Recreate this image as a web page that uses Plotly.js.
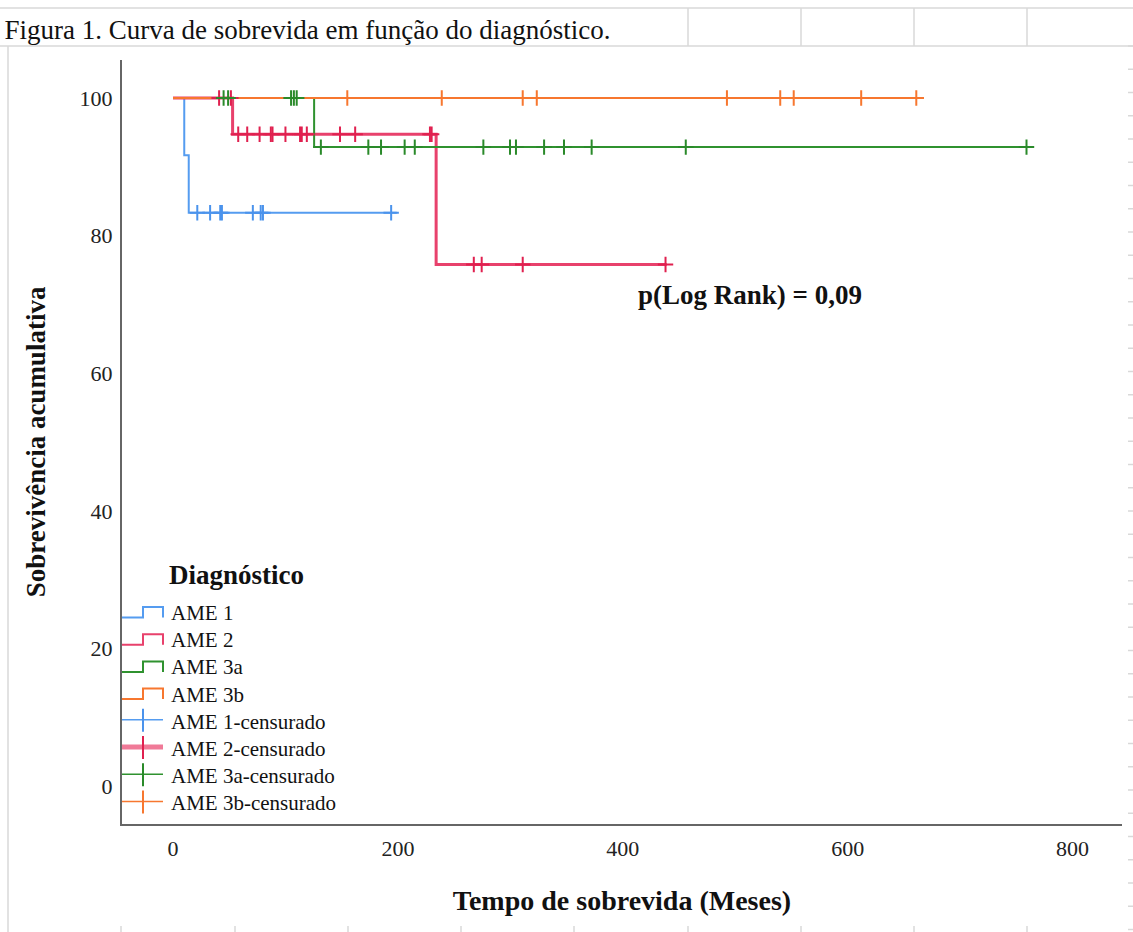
<!DOCTYPE html>
<html><head><meta charset="utf-8">
<script src="https://cdn.plot.ly/plotly-3.0.1.min.js"></script>
<style>html,body{margin:0;padding:0;background:#fff}#chart{width:1133px;height:932px}</style>
</head><body><div id="chart"></div>
<script>
// ---- data ----
const groupNames = ['AME 1', 'AME 2', 'AME 3a', 'AME 3b'];
const censorNames = ['AME 1-censurado', 'AME 2-censurado', 'AME 3a-censurado', 'AME 3b-censurado'];

const ame1Time = [0, 10, 14, 199];
const ame1Surv = [100, 91.67, 83.33, 83.33];
const ame1Censor = [21.6, 33, 42, 43.5, 71, 78, 80, 194];

const ame2Time = [0, 53, 234, 439];
const ame2Surv = [100, 94.74, 75.79, 75.79];
const ame2Censor = [41, 51.5, 58, 66, 77, 87, 88.5, 100, 113, 114.5, 119, 148.5, 162, 228.5, 230, 267.5, 274.5, 311, 438];

const ame3aTime = [0, 125.5, 764];
const ame3aSurv = [100, 92.86, 92.86];
const ame3aCensor = [45, 49, 105, 107.5, 110, 131.5, 173.7, 185, 206, 215, 276, 299.7, 305, 330, 347.7, 372.3, 456, 759];

const ame3bTime = [0, 662];
const ame3bSurv = [100, 100];
const ame3bCensor = [155, 239, 311, 323.5, 492.6, 540, 552, 612, 661];

const xTicks = [0, 200, 400, 600, 800];
const yTicks = [0, 20, 40, 60, 80, 100];
const pText = 'p(Log Rank) = 0,09';

// ---- styles ----
const lineColors = ['#559cf0', '#e8416c', '#2f922f', '#f7772f'];
const lineWidths = [2, 3, 2, 2];
const markColors = ['#4b93ec', '#e0204f', '#2a8a2a', '#f7772f'];

function survAt(times, surv, t) {
  let v = surv[0];
  for (let i = 0; i < times.length; i++) { if (times[i] <= t) v = surv[i]; }
  return v;
}

const curves = [
  [ame1Time, ame1Surv, ame1Censor],
  [ame2Time, ame2Surv, ame2Censor],
  [ame3aTime, ame3aSurv, ame3aCensor],
  [ame3bTime, ame3bSurv, ame3bCensor]
];

const traces = [];
const order = [0, 1, 2, 3];
order.forEach(i => {
  const [t, s] = curves[i];
  traces.push({
    type: 'scatter', mode: 'lines', name: groupNames[i], x: t, y: s,
    line: {shape: 'hv', color: lineColors[i], width: lineWidths[i]},
    showlegend: false, hoverinfo: 'x+y+name'
  });
});
order.forEach(i => {
  const [t, s, c] = curves[i];
  traces.push({
    type: 'scatter', mode: 'markers', name: censorNames[i], x: c,
    y: c.map(v => survAt(t, s, v)),
    marker: {symbol: 'cross-thin-open', size: 11, color: markColors[i], line: {color: markColors[i], width: 2}},
    showlegend: false, hoverinfo: 'x+y+name'
  });
});

// ---- pixel -> paper helpers for decoration ----
const L = 122, R = 1122, T = 60, B = 824;
const px = p => (p - L) / (R - L);
const py = p => (B - p) / (B - T);

const grid = '#d9d9d9';
const shapes = [];
function hline(x0, x1, y, col, w) { shapes.push({type: 'line', xref: 'paper', yref: 'paper', x0: px(x0), x1: px(x1), y0: py(y), y1: py(y), line: {color: col, width: w}}); }
function vline(x, y0, y1, col, w) { shapes.push({type: 'line', xref: 'paper', yref: 'paper', x0: px(x), x1: px(x), y0: py(y0), y1: py(y1), line: {color: col, width: w}}); }

// spreadsheet background grid
hline(0, 1133, 8, grid, 1.5);
hline(0, 1133, 46, grid, 1.5);
vline(8, 46, 932, grid, 1.5);
[688, 801, 914, 1027].forEach(x => vline(x, 8, 46, grid, 1.5));
[121, 235, 348, 461, 574, 688, 801, 914, 1027].forEach(x => vline(x, 926, 932, grid, 1.5));
for (let y = 46; y < 932; y += 23.25) hline(1128, 1133, y, grid, 1.5);

// custom legend icons
const legTop = 613, legStep = 27.2;
const annotations = [];
for (let k = 0; k < 8; k++) {
  const c = legTop + k * legStep;
  if (k < 4) {
    const col = lineColors[k];
    shapes.push({type: 'path', xref: 'paper', yref: 'paper',
      path: `M ${px(122)},${py(c + 4.5)} L ${px(143)},${py(c + 4.5)} L ${px(143)},${py(c - 6)} L ${px(163)},${py(c - 6)} L ${px(163)},${py(c + 4.5)}`,
      line: {color: col, width: 2}});
  } else {
    const g = k - 4;
    const hcol = g === 1 ? '#f07a98' : lineColors[g];
    hline(122, 163, c - 2, hcol, g === 1 ? 5 : 1.5);
    vline(143, c - 13, c + 10, markColors[g], 2);
  }
  annotations.push({xref: 'paper', yref: 'paper', x: px(169), y: py(c), xanchor: 'left', yanchor: 'middle',
    text: (k < 4 ? groupNames[k] : censorNames[k - 4]), showarrow: false,
    font: {family: 'Liberation Serif', size: 21, color: '#111'}});
}
annotations.push({xref: 'paper', yref: 'paper', x: px(167), y: py(575), xanchor: 'left', yanchor: 'middle',
  text: '<b>Diagnóstico</b>', showarrow: false, font: {family: 'Liberation Serif', size: 27, color: '#111'}});
annotations.push({xref: 'x', yref: 'y', x: 411.5, y: 71.4, xanchor: 'left', yanchor: 'middle',
  text: '<b>' + pText + '</b>', showarrow: false, font: {family: 'Liberation Serif', size: 27, color: '#111'}});

const layout = {
  width: 1133, height: 932,
  margin: {l: L, r: 1133 - R, t: T, b: 932 - B},
  paper_bgcolor: '#fff', plot_bgcolor: '#fff',
  title: {text: 'Figura 1. Curva de sobrevida em função do diagnóstico.', x: 0.004, xanchor: 'left', xref: 'container',
    y: 1 - 30 / 932, yanchor: 'middle', yref: 'container',
    font: {family: 'Liberation Serif', size: 27, color: '#111'}},
  xaxis: {
    range: [(L - 173) / 1.1245, (R - 173) / 1.1245], tickvals: xTicks, ticktext: xTicks.map(String),
    showgrid: false, zeroline: false, showline: true, linecolor: '#666', linewidth: 2,
    ticks: '', ticklabelstandoff: 4,
    tickfont: {family: 'Liberation Serif', size: 22, color: '#222'},
    title: {text: '<b>Tempo de sobrevida (Meses)</b>', standoff: 30, font: {family: 'Liberation Serif', size: 28, color: '#111'}}
  },
  yaxis: {
    range: [(786 - B) / 6.88, (786 - T) / 6.88], tickvals: yTicks, ticktext: yTicks.map(String),
    showgrid: false, zeroline: false, showline: true, linecolor: '#666', linewidth: 2,
    ticks: '', ticklabelstandoff: 3,
    tickfont: {family: 'Liberation Serif', size: 22, color: '#222'},
    title: {text: '<b>Sobrevivência acumulativa</b>', standoff: 26, font: {family: 'Liberation Serif', size: 27, color: '#111'}}
  },
  shapes: shapes,
  annotations: annotations,
  showlegend: false
};

Plotly.newPlot('chart', traces, layout, {displayModeBar: false, staticPlot: true});
</script>
</body></html>
